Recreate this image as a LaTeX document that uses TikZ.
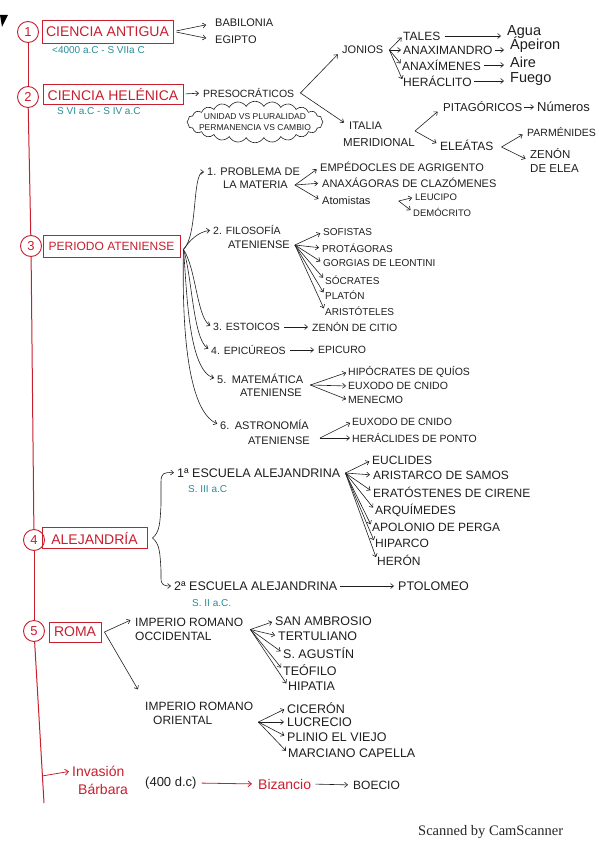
\documentclass[tikz,border=0pt]{standalone}
\usepackage{fontspec}
\setmainfont{Liberation Sans}
\newfontfamily\scanfont{Liberation Serif}
\usetikzlibrary{arrows.meta,shapes.symbols}
\definecolor{hred}{RGB}{200,30,45}
\definecolor{hteal}{RGB}{40,140,150}
\definecolor{ink}{RGB}{30,30,30}
\begin{document}
\begin{tikzpicture}[x=1pt,y=-1pt,
 t/.style={anchor=west,inner sep=0pt,text=ink,font=\fontsize{#1}{14}\selectfont},
 t/.default=11,
 rt/.style={anchor=west,inner sep=0pt,text=hred,font=\fontsize{#1}{16}\selectfont},
 rt/.default=14,
 tl/.style={anchor=west,inner sep=0pt,text=hteal,font=\fontsize{#1}{12}\selectfont},
 tl/.default=10,
 head/.style={draw=hred,text=hred,line width=0.9pt,inner sep=0pt,font=\fontsize{#1}{#1}\selectfont},
 head/.default=14,
 num/.style={circle,draw=hred,fill=white,line width=0.9pt,text=hred,minimum size=21pt,inner sep=0pt,font=\fontsize{13}{13}\selectfont},
 arr/.style={draw=ink,line width=0.6pt,-{Straight Barb[length=3pt,width=5pt]}},
 rarr/.style={draw=hred,line width=0.8pt,-{Straight Barb[length=3.5pt,width=6pt]}},
 tline/.style={draw=hred,line width=1pt}
]
\useasboundingbox (0,0) rectangle (599,848);
\fill[black] (0,15) -- (8,15) -- (2,27) -- cycle;

% timeline
\node[num] (c1) at (28,32) {1};
\node[num] (c2) at (28,97) {2};
\node[num] (c3) at (31,246) {3};
\node[num] (c4) at (34,540) {4};
\node[num] (c5) at (34,631) {5};
\coordinate (lbot) at (44,803);
\draw[tline] (c1) -- (c2);
\draw[tline] (c2) -- (c3);
\draw[tline] (c3) -- (c4);
\draw[tline] (c4) -- (c5);
\draw[tline] (c5) -- (lbot);

% headings
\node[head=14,minimum width=131pt,minimum height=23pt] (h1) at (107.5,31.5) {CIENCIA ANTIGUA};
\node[head=14,minimum width=140pt,minimum height=20pt] (h2) at (113,94) {CIENCIA HELÉNICA};
\node[head=12,minimum width=137pt,minimum height=22pt] (h3) at (111.5,246.5) {PERIODO ATENIENSE};
\node[head=14,minimum width=105pt,minimum height=21pt] (h4) at (94.5,538) {ALEJANDRÍA};
\node[head=14,minimum width=52pt,minimum height=20pt] (h5) at (75,632) {ROMA};
\node[tl] (s1) at (52,50) {<4000 a.C - S VIIa C};
\node[tl] (s2) at (57,111) {S VI a.C - S IV a.C};

% 1
\node[t=11] (bab) at (215,23) {BABILONIA};
\node[t=11] (egi) at (215,40) {EGIPTO};
\draw[arr,shorten >=9pt,shorten <=3pt] (h1.east) -- (bab.west);
\draw[arr,shorten >=9pt,shorten <=3pt] (h1.east) -- (egi.west);

% 2
\node[t=10.5] (pres) at (203,93) {PRESOCRÁTICOS};
\draw[arr,shorten >=4pt,shorten <=2pt] (h2.east) -- (pres.west);
\node[cloud,cloud ignores aspect,draw=ink,line width=0.6pt,cloud puffs=24,cloud puff arc=120,inner xsep=-16pt,inner ysep=3.5pt,minimum width=136pt,align=center,text=ink,font=\fontsize{8.5}{10.5}\selectfont] (cloud) at (255,122) {UNIDAD VS PLURALIDAD\\PERMANENCIA VS CAMBIO};
\coordinate (vpres) at ([xshift=6pt]pres.east);
\node[t=11] (jon) at (342,50) {JONIOS};
\node[t=11] (ita) at (349,126) {ITALIA};
\node[t=11.5] (mer) at (343,143) {MERIDIONAL};
\draw[arr,shorten >=6pt] (vpres) -- (jon.west);
\draw[arr,shorten >=6pt] (vpres) -- (ita.west);

\coordinate (vjon) at ([xshift=6pt]jon.east);
\node[t=12] (tal) at (403,36) {TALES};
\node[t=12] (anx) at (403,50) {ANAXIMANDRO};
\node[t=12] (anm) at (402,65) {ANAXÍMENES};
\node[t=12] (her) at (403,81) {HERÁCLITO};
\foreach \n in {tal,anx,anm,her} \draw[arr,shorten >=2pt] (vjon) -- (\n.west);
\node[t=14.5] (agua) at (507,32) {Agua};
\node[t=14.5] (ape) at (510,45) {Ápeiron};
\node[t=14.5] (aire) at (510,62) {Aire};
\node[t=14.5] (fue) at (510,79) {Fuego};
\draw[arr,shorten >=6pt,shorten <=4pt] (tal.east) -- (tal.east -| agua.west);
\draw[arr,shorten >=6pt,shorten <=2pt] (anx.east) -- (anx.east -| ape.west);
\draw[arr,shorten >=6pt,shorten <=3pt] (anm.east) -- (anm.east -| aire.west);
\draw[arr,shorten >=6pt,shorten <=2pt] (her.east) -- (her.east -| fue.west);

\coordinate (vmer) at ([yshift=12pt]mer.east);
\node[t=11.5] (pit) at (443,107) {PITAGÓRICOS};
\node[t=13] (num) at (537,107) {Números};
\node[t=12] (ele) at (440,145) {ELEÁTAS};
\draw[arr,shorten >=7pt] (vmer) -- (pit.west);
\draw[arr,shorten >=4pt] (vmer) -- (ele.west);
\draw[arr,shorten >=3pt,shorten <=2pt] (pit.east) -- (num.west);
\coordinate (vele) at ([xshift=8pt,yshift=-2pt]ele.east);
\node[t=10.5] (par) at (527,132) {PARMÉNIDES};
\node[t=11.5,align=left] (zen) at (530,161) {ZENÓN\\DE ELEA};
\draw[arr,shorten >=5pt] (vele) -- (par.west);
\draw[arr,shorten >=5pt] (vele) -- (zen.west);

% 3
\coordinate (pa) at ([xshift=3pt,yshift=-3pt]h3.east);
\node[t=11] (p1a) at (207,172) {1. PROBLEMA DE};
\node[t=11] (p1b) at (223,185) {LA MATERIA};
\draw[arr,shorten >=3pt] (pa) .. controls (198,236) and (192,172) .. (p1a.west);
\coordinate (vp1) at ([xshift=7pt]p1b.east);
\node[t=11] (emp) at (320,167) {EMPÉDOCLES DE AGRIGENTO};
\node[t=11] (anxg) at (322,183) {ANAXÁGORAS DE CLAZÓMENES};
\node[t=11] (atom) at (322,201) {Atomistas};
\foreach \n in {emp,anxg,atom} \draw[arr,shorten >=4pt] (vp1) -- (\n.west);
\coordinate (vat) at ([xshift=28pt]atom.east);
\node[t=9.5] (leu) at (415,197) {LEUCIPO};
\node[t=9.5] (dem) at (413,212) {DEMÓCRITO};
\draw[arr,shorten >=3pt] (vat) -- (leu.west);
\draw[arr,shorten >=3pt] (vat) -- (dem.west);

\node[t=10.5] (p2a) at (213,230) {2. FILOSOFÍA};
\node[t=11] (p2b) at (228,245) {ATENIENSE};
\draw[arr,shorten >=3pt] (pa) .. controls (190,240) and (198,232) .. (p2a.west);
\coordinate (vp2) at ([xshift=5pt]p2b.east);
\node[t=10] (sof) at (323,232) {SOFISTAS};
\node[t=10] (pro) at (322,248) {PROTÁGORAS};
\node[t=10] (gor) at (323,263) {GORGIAS DE LEONTINI};
\node[t=10] (soc) at (325,280) {SÓCRATES};
\node[t=10] (pla) at (325,295) {PLATÓN};
\node[t=10] (ari) at (325,311) {ARISTÓTELES};
\foreach \n in {sof,pro,gor,soc,pla,ari} \draw[arr,shorten >=3pt] (vp2) -- (\n.west);

\node[t=10.5] (p3) at (213,327) {3. ESTOICOS};
\node[t=10.5] (zc) at (312,327) {ZENÓN DE CITIO};
\draw[arr,shorten >=4pt,shorten <=4pt] (p3.east) -- (zc.west);
\node[t=10.5] (p4) at (211,350) {4. EPICÚREOS};
\node[t=10.5] (epi) at (318,350) {EPICURO};
\draw[arr,shorten >=4pt,shorten <=4pt] (p4.east) -- (epi.west);

\node[t=11] (p5a) at (217,379) {5.\enspace MATEMÁTICA};
\node[t=11] (p5b) at (240,393) {ATENIENSE};
\coordinate (vp5) at ([xshift=7pt,yshift=-6pt]p5a.east);
\node[t=10.5] (hip) at (348,372) {HIPÓCRATES DE QUÍOS};
\node[t=10.5] (eux) at (348,386) {EUXODO DE CNIDO};
\node[t=10.5] (men) at (348,400) {MENECMO};
\foreach \n in {hip,eux,men} \draw[arr,shorten >=2pt] (vp5) -- (\n.west);

\node[t=11] (p6a) at (220,425) {6.\enspace ASTRONOMÍA};
\node[t=11] (p6b) at (248,441) {ATENIENSE};
\coordinate (vp6) at ([xshift=10pt,yshift=3pt]p6b.east);
\node[t=10.5] (eux2) at (352,422) {EUXODO DE CNIDO};
\node[t=10.5] (herc) at (352,438) {HERÁCLIDES DE PONTO};
\foreach \n in {eux2,herc} \draw[arr,shorten >=2pt] (vp6) -- (\n.west);

\draw[arr,shorten >=3pt] (pa) .. controls (196,268) and (197,318) .. (p3.west);
\draw[arr,shorten >=3pt] (pa) .. controls (192,275) and (193,340) .. (p4.west);
\draw[arr,shorten >=3pt] (pa) .. controls (187,290) and (188,370) .. (p5a.west);
\draw[arr,shorten >=3pt] (pa) .. controls (182,320) and (186,410) .. (p6a.west);

% 4
\node[t=12.5] (e1) at (177,473) {1ª ESCUELA ALEJANDRINA};
\node[tl] (e1s) at (188,489) {S. III a.C};
\node[t=12.5] (e2) at (174,586) {2ª ESCUELA ALEJANDRINA};
\node[t=12.5] (pto) at (398,586) {PTOLOMEO};
\node[tl] (e2s) at (192,603) {S. II a.C.};
\draw[arr,shorten >=4pt,shorten <=3pt] (e2.east) -- (pto.west);
\coordinate (vbr) at ([xshift=5pt]h4.east);
\draw[arr,shorten >=3pt] (vbr) .. controls (160,532) and (160,522) .. (161,505) -- (161,482) .. controls (161,473) and (164,472) .. (e1.west);
\draw[arr,shorten >=3pt] (vbr) .. controls (160,544) and (160,554) .. (161,570) -- (161,578) .. controls (161,585) and (164,586) .. (e2.west);
\coordinate (ve1) at ([xshift=5pt]e1.east);
\node[t=12] (euc) at (372,460) {EUCLIDES};
\node[t=12] (ars) at (373,475) {ARISTARCO DE SAMOS};
\node[t=12] (era) at (373,492) {ERATÓSTENES DE CIRENE};
\node[t=12] (arq) at (375,510) {ARQUÍMEDES};
\node[t=12] (apo) at (372,527) {APOLONIO DE PERGA};
\node[t=12] (hipa) at (375,543) {HIPARCO};
\node[t=12] (hero) at (377,560) {HERÓN};
\foreach \n in {euc,ars,era,arq,apo,hipa,hero} \draw[arr,shorten >=3pt] (ve1) -- (\n.west);

% 5
\coordinate (vro) at ([xshift=3pt]h5.east);
\node[t=12,align=left] (occ) at (135,629.5) {IMPERIO ROMANO\\OCCIDENTAL};
\node[t=12,align=left] (ori) at (145,713) {IMPERIO ROMANO\\\hspace{8pt}ORIENTAL};
\draw[arr,shorten >=5pt] (vro) -- (occ.north west);
\draw[arr,shorten >=14pt] (vro) -- (ori.north west);
\coordinate (vocc) at ([xshift=7pt]occ.east);
\node[t=12.5] (sam) at (275,621) {SAN AMBROSIO};
\node[t=12.5] (ter) at (278,636) {TERTULIANO};
\node[t=12.5] (sag) at (283,653) {S. AGUSTÍN};
\node[t=12.5] (teo) at (283,670) {TEÓFILO};
\node[t=12.5] (hipt) at (288,686) {HIPATIA};
\foreach \n in {sam,ter,sag,teo,hipt} \draw[arr,shorten >=3pt] (vocc) -- (\n.west);
\coordinate (vori) at ([xshift=5pt,yshift=-9pt]ori.east);
\node[t=12.5] (cic) at (287,708) {CICERÓN};
\node[t=12.5] (luc) at (287,722) {LUCRECIO};
\node[t=12.5] (pli) at (287,737) {PLINIO EL VIEJO};
\node[t=12.5] (mar) at (288,753) {MARCIANO CAPELLA};
\foreach \n in {cic,luc,pli,mar} \draw[arr,shorten >=3pt] (vori) -- (\n.west);

% bottom
\coordinate (inv0) at (42,776);
\node[rt=14] (inv1) at (72,771) {Invasión};
\node[rt=14] (inv2) at (78,789) {Bárbara};
\draw[rarr,shorten >=3pt] (inv0) -- (inv1.west);
\node[t=13] (fh) at (145,783) {(400 d.c)};
\node[rt=14] (biz) at (258,784) {Bizancio};
\node[t=12] (boe) at (353,785) {BOECIO};
\draw[rarr,shorten >=6pt,shorten <=5pt] (fh.east) -- (biz.west);
\draw[arr,shorten >=5pt,shorten <=4pt] (biz.east) -- (boe.west);

\node[anchor=west,inner sep=0pt,font=\scanfont\fontsize{14.5}{15}\selectfont,text=black!85] (scan) at (418,832) {Scanned by CamScanner};
\end{tikzpicture}
\end{document}
